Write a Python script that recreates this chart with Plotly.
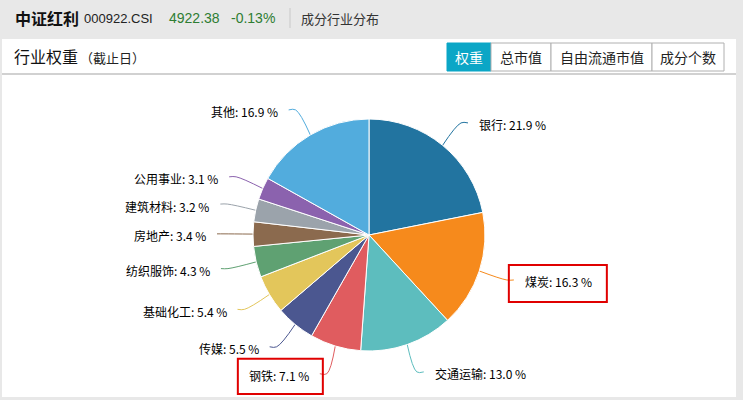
import math
import plotly.graph_objects as go

industries = ["银行", "煤炭", "交通运输", "钢铁", "传媒", "基础化工",
              "纺织服饰", "房地产", "建筑材料", "公用事业", "其他"]
weights = [21.9, 16.3, 13.0, 7.1, 5.5, 5.4, 4.3, 3.4, 3.2, 3.1, 16.9]
colors = ["#2274a0", "#f68a1c", "#5dbdbe", "#e05c5f", "#4b5790", "#e3c65b",
          "#5fa172", "#8b6a4e", "#9ba3ab", "#8b62ae", "#52acdd"]
highlight = ["煤炭", "钢铁"]

index_name = "中证红利"
index_code = "000922.CSI"
index_price = "4922.38"
index_change = "-0.13%"
tabs = ["权重", "总市值", "自由流通市值", "成分个数"]

W, H = 743, 400
FONT = "Noto Sans CJK SC"
cx, cy, r = 369, 235, 116

fig = go.Figure()

# white card + header pieces
shapes = [
    dict(type="rect", x0=2, x1=736, y0=39, y1=397, fillcolor="white",
         line=dict(width=0), layer="below"),
    dict(type="line", x0=2, x1=736, y0=74, y1=74,
         line=dict(color="#c2c2c2", width=1.5), layer="below"),
    dict(type="line", x0=290, x1=290, y0=8, y1=28,
         line=dict(color="#c8c8c8", width=1), layer="below"),
]

fig.add_trace(go.Pie(
    labels=industries, values=weights, sort=False, direction="clockwise",
    rotation=0, marker=dict(colors=colors, line=dict(color="white", width=1)),
    textinfo="none", hoverinfo="none", showlegend=False,
    domain=dict(x=[(cx - r) / W, (cx + r) / W],
                y=[(H - cy - r) / H, (H - cy + r) / H]),
))

annotations = []
total = sum(weights)
cum = 0
for name, w, col in zip(industries, weights, colors):
    mid = math.radians((cum + w / 2) / total * 360)
    cum += w
    dx, dy = math.sin(mid), -math.cos(mid)
    side = 1 if dx >= 0 else -1
    p0 = (cx + r * dx, cy + r * dy)
    p1 = (cx + 145 * dx, cy + 145 * dy)
    p2 = (p1[0] + 7 * side, p1[1])
    fig.add_trace(go.Scatter(
        x=[p0[0], p1[0], p2[0]], y=[p0[1], p1[1], p2[1]], mode="lines",
        line=dict(color=col, width=1, shape="spline", smoothing=1.0),
        hoverinfo="skip", showlegend=False))
    tx, ty = p1[0] + 16 * side, p1[1] + 2
    annotations.append(dict(
        x=tx, y=ty, xref="x", yref="y", text=f"{name}: {w:.1f} %",
        showarrow=False, xanchor="left" if side > 0 else "right",
        yanchor="middle", font=dict(family=FONT, size=12, color="#000")))
    if name in highlight:
        if side > 0:
            x0, x1 = tx - 14, tx + 84
        else:
            x0, x1 = tx - 73, tx + 12
        shapes.append(dict(type="rect", x0=x0, x1=x1,
                           y0=ty - 17, y1=min(ty + 20, 394),
                           line=dict(color="#e00000", width=2)))

# header texts
annotations += [
    dict(x=13, y=18, text=f"<b>{index_name}</b>",
         font=dict(family=FONT, size=16, color="#111")),
    dict(x=82, y=18, text=index_code,
         font=dict(family="Liberation Sans", size=13, color="#222")),
    dict(x=167, y=18, text=index_price,
         font=dict(family="Liberation Sans", size=14, color="#2e7d32")),
    dict(x=229, y=18, text=index_change,
         font=dict(family="Liberation Sans", size=14, color="#2e7d32")),
    dict(x=299, y=18, text="成分行业分布",
         font=dict(family=FONT, size=13, color="#333")),
    dict(x=12, y=56, text="行业权重",
         font=dict(family=FONT, size=16, color="#111")),
    dict(x=78, y=57, text="（截止日）",
         font=dict(family=FONT, size=13, color="#222")),
]
for a in annotations[-7:]:
    a.update(xref="x", yref="y", showarrow=False, xanchor="left",
             yanchor="middle")

# tab buttons
edges = [447, 491, 551, 652, 724]
for i, t in enumerate(tabs):
    active = i == 0
    shapes.append(dict(type="rect", x0=edges[i], x1=edges[i + 1], y0=43, y1=71,
                       fillcolor="#0ba6c6" if active else "white",
                       line=dict(color="#0ba6c6" if active else "#b0b0b0",
                                 width=1), layer="below"))
    annotations.append(dict(
        x=(edges[i] + edges[i + 1]) / 2, y=57, xref="x", yref="y", text=t,
        showarrow=False, xanchor="center", yanchor="middle",
        font=dict(family=FONT, size=14, color="white" if active else "#222")))

fig.update_layout(
    width=W, height=H, margin=dict(l=0, r=0, t=0, b=0),
    paper_bgcolor="#e8e8e8", plot_bgcolor="rgba(0,0,0,0)",
    xaxis=dict(range=[0, W], visible=False, fixedrange=True),
    yaxis=dict(range=[H, 0], visible=False, fixedrange=True),
    shapes=shapes, annotations=annotations,
)

fig.write_html("out.html", config={"displayModeBar": False},
               post_script="document.body.style.margin='0';"
                           "document.body.style.overflow='hidden';")
